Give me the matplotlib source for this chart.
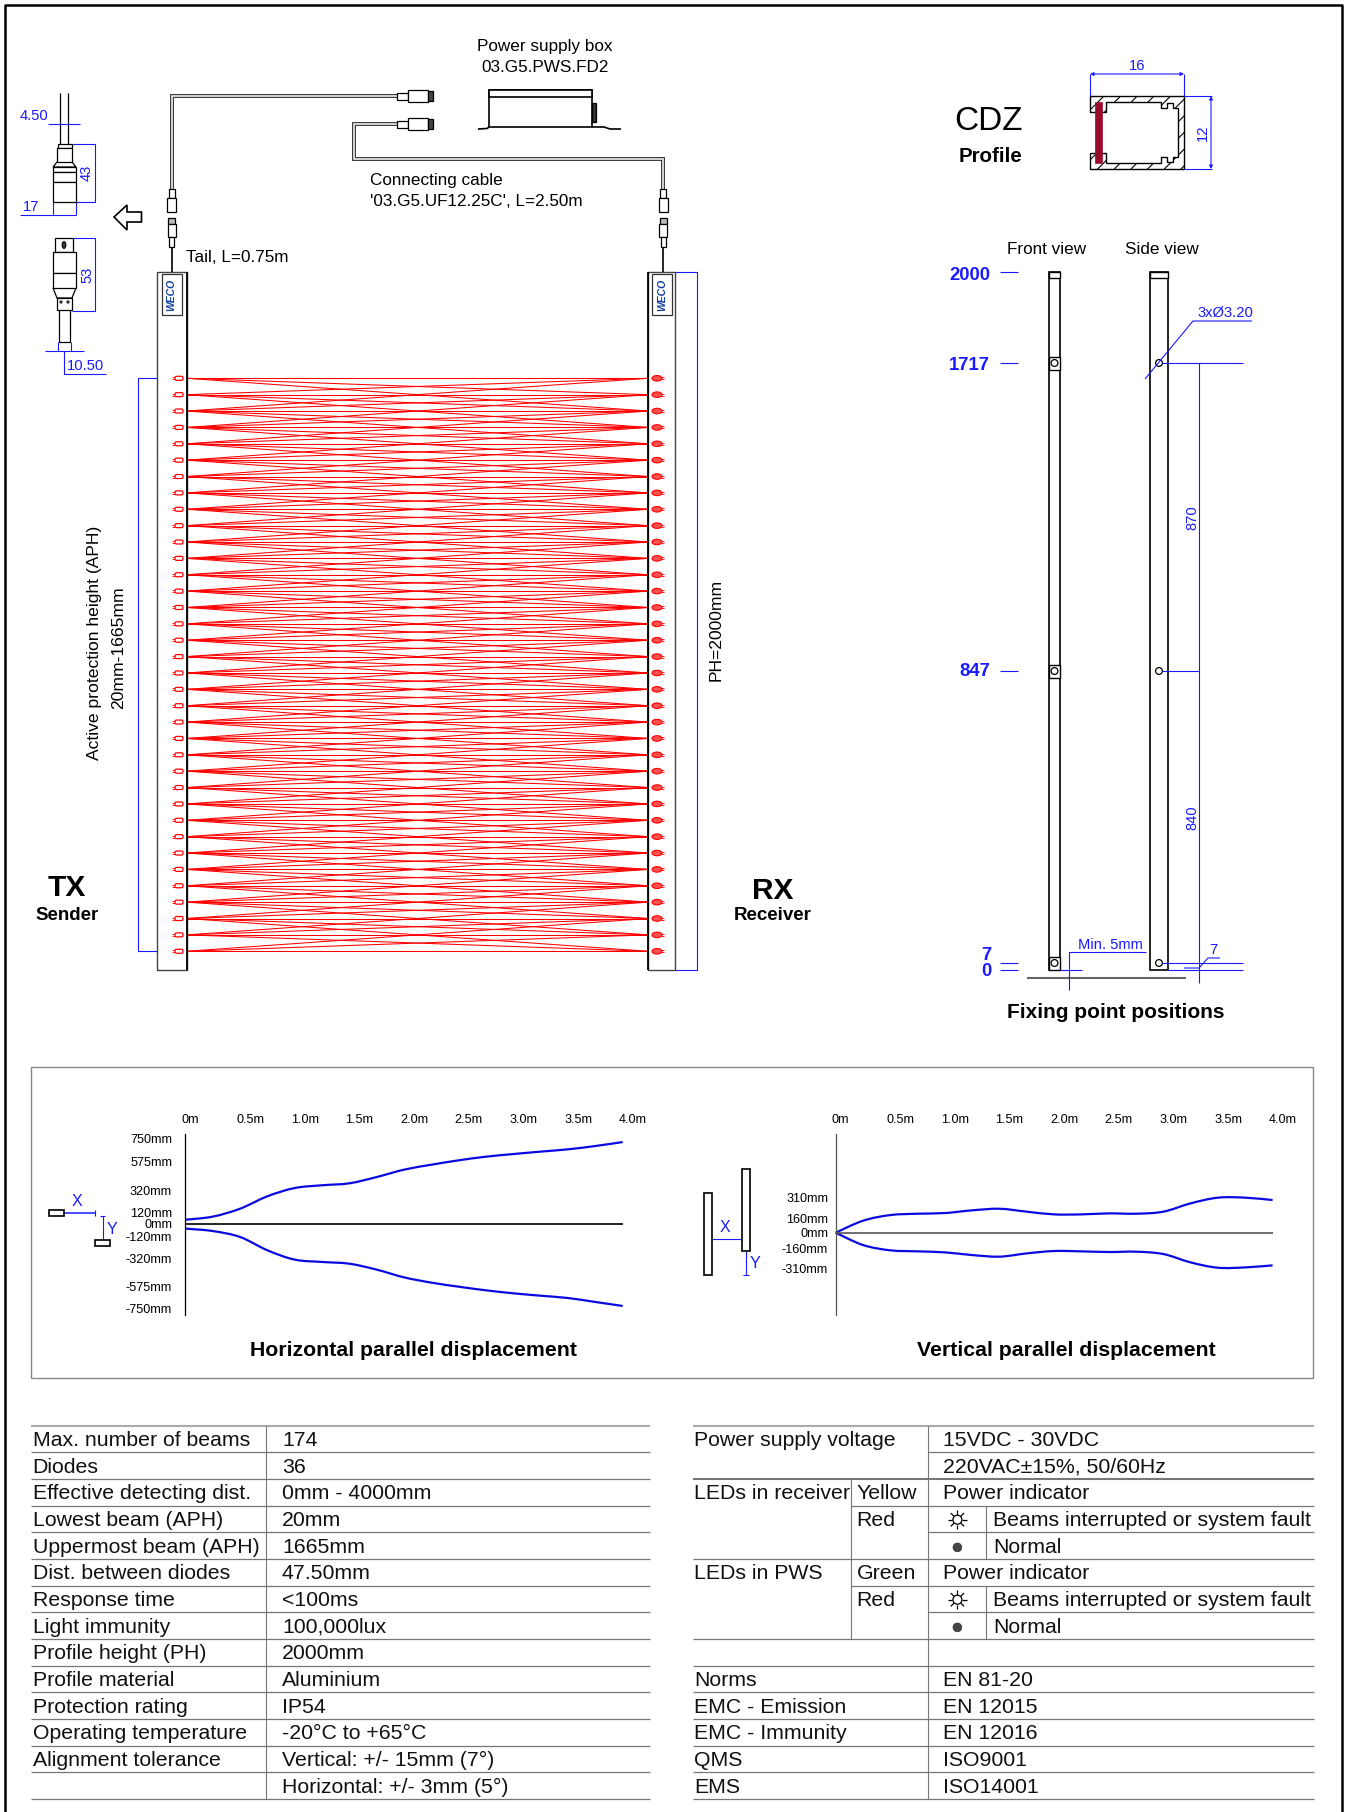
import matplotlib
matplotlib.use('Agg')
import matplotlib.pyplot as plt
from matplotlib.patches import Rectangle, Circle, Polygon, FancyBboxPatch, PathPatch, Ellipse
from matplotlib.path import Path

plt.rcParams['font.family'] = ['Liberation Sans', 'DejaVu Sans']
plt.rcParams['hatch.linewidth'] = 0.8

W, H = 1346, 1812
BLUE = '#1a1aff'
CURVE = '#0a0ae0'
RED = '#ff0000'
GREY = '#777777'

# Displacement charts (distance in m, opening in mm)
dist = [0, 0.25, 0.5, 0.75, 1.0, 1.25, 1.5, 1.75, 2.0, 2.25, 2.5, 2.75, 3.0, 3.25, 3.5, 3.75, 4.0]
h_upper = [39, 67, 139, 252, 327, 352, 370, 427, 494, 539, 579, 612, 636, 658, 679, 709, 745]
h_lower = [-42, -64, -118, -239, -324, -345, -361, -415, -485, -533, -570, -603, -630, -652, -673, -709, -745]
v_upper = [0, 106, 156, 168, 174, 198, 212, 186, 162, 162, 171, 168, 186, 260, 310, 310, 289]
v_lower = [0, -109, -156, -165, -174, -198, -212, -183, -162, -165, -171, -168, -189, -263, -310, -307, -289]
dist_ticks = [0, 0.5, 1.0, 1.5, 2.0, 2.5, 3.0, 3.5, 4.0]
dist_labels = ['0m', '0.5m', '1.0m', '1.5m', '2.0m', '2.5m', '3.0m', '3.5m', '4.0m']
h_tick_pos = [773, 566, 303, 109, 0, -115, -318, -570, -764]
h_tick_labels = ['750mm', '575mm', '320mm', '120mm', '0mm', '-120mm', '-320mm', '-575mm', '-750mm']
v_tick_pos = [313, 130, 0, -138, -315]
v_tick_labels = ['310mm', '160mm', '0mm', '-160mm', '-310mm']

# Spec tables
left_rows = ['Max. number of beams', 'Diodes', 'Effective detecting dist.', 'Lowest beam (APH)',
             'Uppermost beam (APH)', 'Dist. between diodes', 'Response time', 'Light immunity',
             'Profile height (PH)', 'Profile material', 'Protection rating', 'Operating temperature',
             'Alignment tolerance', '']
left_vals = ['174', '36', '0mm - 4000mm', '20mm', '1665mm', '47.50mm', '<100ms', '100,000lux', '2000mm',
             'Aluminium', 'IP54', '-20°C to +65°C', 'Vertical: +/- 15mm (7°)', 'Horizontal: +/- 3mm (5°)']
right_rows = ['Power supply voltage', '', 'LEDs in receiver', '', '', 'LEDs in PWS', '', '', '',
              'Norms', 'EMC - Emission', 'EMC - Immunity', 'QMS', 'EMS']
right_mid = ['', '', 'Yellow', 'Red', '', 'Green', 'Red', '', '', '', '', '', '', '']
right_vals = ['15VDC - 30VDC', '220VAC±15%, 50/60Hz', 'Power indicator', '', '', 'Power indicator', '', '', '',
              'EN 81-20', 'EN 12015', 'EN 12016', 'ISO9001', 'ISO14001']
led_rows = [3, 4, 6, 7]
led_text = ['Beams interrupted or system fault', 'Normal', 'Beams interrupted or system fault', 'Normal']

n_diodes = 36
beam_reach = 2

fig = plt.figure(figsize=(W / 100, H / 100), dpi=100)
ax = fig.add_axes([0, 0, 1, 1])
ax.set_xlim(0, W)
ax.set_ylim(H, 0)
ax.axis('off')


def line(xs, ys, c='black', lw=0.8, **kw):
    ax.plot(xs, ys, color=c, lw=lw, solid_capstyle='butt', **kw)


def box(x0, y0, x1, y1, ec='black', fc='white', lw=0.9, z=3):
    ax.add_patch(Rectangle((x0, y0), x1 - x0, y1 - y0, ec=ec, fc=fc, lw=lw, zorder=z))


def txt(x, y, s, size=12.3, c='black', ha='center', va='center', **kw):
    ax.text(x, y, s, fontsize=size, color=c, ha=ha, va=va, **kw)


def dim(x0, y0, x1, y1):
    ax.annotate('', xy=(x1, y1), xytext=(x0, y0),
                arrowprops=dict(arrowstyle='<|-|>', color=BLUE, lw=0.8, mutation_scale=5, shrinkA=0, shrinkB=0))


def cable(xs, ys):
    ax.plot(xs, ys, color='#333333', lw=2.8, solid_joinstyle='miter', solid_capstyle='butt', zorder=2)
    ax.plot(xs, ys, color='white', lw=1.1, solid_joinstyle='miter', solid_capstyle='butt', zorder=2)


def plug_v(cx):
    box(cx - 3, 189, cx + 3, 198)
    box(cx - 4.5, 198, cx + 4.5, 212)
    box(cx - 3.5, 218, cx + 3.5, 224, fc='#bbbbbb')
    box(cx - 4, 224, cx + 4, 237)
    box(cx - 2.5, 237, cx + 2.5, 247)
    line([cx, cx], [247, 272], lw=1.2)


def plug_h(y):
    box(397, y - 3.5, 408, y + 3.5)
    box(408, y - 6, 428, y + 6)
    box(428, y - 5, 433, y + 5, fc='#444444')


def smooth_path(xs, ys):
    # Catmull-Rom through the read points, drawn as Bezier segments
    verts = [(xs[0], ys[0])]
    codes = [Path.MOVETO]
    n = len(xs)
    for i in range(n - 1):
        i0, i3 = max(i - 1, 0), min(i + 2, n - 1)
        verts.append((xs[i] + (xs[i + 1] - xs[i0]) / 6, ys[i] + (ys[i + 1] - ys[i0]) / 6))
        verts.append((xs[i + 1] - (xs[i3] - xs[i]) / 6, ys[i + 1] - (ys[i3] - ys[i]) / 6))
        verts.append((xs[i + 1], ys[i + 1]))
        codes += [Path.CURVE4] * 3
    return Path(verts, codes)


# outer frame, open at the bottom like the source image
line([4.5, 4.5, 1342, 1342], [H, 5, 5, H], lw=1.8)

# beams between the two bars
ys = [378.3 + 16.37 * i for i in range(n_diodes)]
for i in range(n_diodes):
    for j in range(max(0, i - beam_reach), min(n_diodes, i + beam_reach + 1)):
        line([187, 648], [ys[i], ys[j]], c=RED, lw=0.75)

# TX and RX bars
line([157, 187, 187, 157, 157], [272, 272, 970, 970, 272], c='#444444', lw=1.0)
line([648, 675, 675, 648, 648], [272, 272, 970, 970, 272], c='#444444', lw=1.0)
line([187, 187], [272, 970], lw=1.3)
line([648, 648], [272, 970], lw=1.3)
for x0 in [161.5, 652]:
    box(x0, 274, x0 + 20, 315, ec='#333333')
    txt(x0 + 10, 295, 'WECO', size=7.5, c='#1040a0', rotation=90, weight='bold', style='italic', zorder=4)
for y in ys:
    ax.add_patch(FancyBboxPatch((175, y - 2), 8, 4, boxstyle='round,pad=0,rounding_size=1.5', ec=RED, fc='white', lw=0.9, zorder=3))
    line([172, 175], [y - 1, y - 1], c=RED, lw=0.6)
    line([172, 175], [y + 1, y + 1], c=RED, lw=0.6)
    ax.add_patch(Ellipse((657, y), 10, 5.5, ec=RED, fc='#ff5050', lw=0.8, zorder=3))
    line([661, 663.5], [y - 1, y - 1], c=RED, lw=0.6)
    line([661, 663.5], [y + 1, y + 1], c=RED, lw=0.6)

# cables and plugs
cable([171.5, 171.5, 397], [189, 96, 96])
cable([397, 353.5, 353.5, 663, 663], [124, 124, 159, 159, 189])
plug_v(171.5)
plug_v(663)
plug_h(96)
plug_h(124)

# power supply box
line([489, 489, 592, 592], [127, 90, 90, 127], lw=1.2)
box(489, 90, 592, 97, fc='white', lw=1.2)
line([478, 487, 489], [129, 128.5, 127], lw=1.2)
line([489, 592], [127, 127], lw=1.2)
line([592, 604, 610, 621], [127, 127, 129, 129], lw=1.2)
box(592, 103, 595.5, 122, fc='#333333')

txt(545, 47, 'Power supply box')
txt(545, 67, '03.G5.PWS.FD2')
txt(370, 181, 'Connecting cable', ha='left')
txt(370, 201, "'03.G5.UF12.25C', L=2.50m", ha='left')
txt(186, 258, 'Tail, L=0.75m', ha='left')

# connector details on the far left
line([60, 60], [93, 144], lw=0.9)
line([68, 68], [93, 144], lw=0.9)
box(58, 144, 72, 148)
box(57, 148, 72, 162)
ax.add_patch(Polygon([(57, 162), (72, 162), (76, 167), (53, 167)], closed=True, ec='black', fc='white', lw=0.9))
box(53, 167, 76, 172)
box(53, 172, 76, 182)
box(53, 182, 76, 202)
line([48, 80], [124, 124], c=BLUE)
txt(34, 116, '4.50', size=10.6, c=BLUE)
line([72, 95, 95, 76], [144, 144, 202, 202], c=BLUE)
txt(87, 173, '43', size=10.6, c=BLUE, rotation=90)
line([20, 76], [215, 215], c=BLUE)
line([53, 53], [202, 215], c=BLUE)
line([76, 76], [202, 215], c=BLUE)
txt(31, 207, '17', size=10.6, c=BLUE)
ax.add_patch(Polygon([(114, 217), (127, 205), (127, 212), (141.5, 212), (141.5, 222), (127, 222), (127, 230)],
                     closed=True, ec='black', fc='white', lw=1.2))
box(55, 238, 73, 252)
ax.add_patch(Ellipse((64, 245), 4, 7, ec='black', fc='#333333', lw=0.6, zorder=4))
box(53, 252, 76, 273)
box(53, 273, 76, 288)
ax.add_patch(Polygon([(53, 288), (76, 288), (72, 298), (57, 298)], closed=True, ec='black', fc='white', lw=0.9))
box(57, 298, 72, 310)
ax.add_patch(Circle((61, 302), 1.2, ec='black', fc='#555555', lw=0.5, zorder=4))
ax.add_patch(Circle((68, 302), 1.2, ec='black', fc='#555555', lw=0.5, zorder=4))
line([59, 59, 70, 70], [310, 342, 342, 310], lw=0.9)
line([73, 95, 95, 72], [238, 238, 311, 311], c=BLUE)
txt(87, 275, '53', size=10.6, c=BLUE, rotation=90)
line([45, 84], [351, 351], c=BLUE)
line([58, 58], [342, 351], c=BLUE)
line([71, 71], [342, 351], c=BLUE)
line([64, 64, 106], [351, 374, 374], c=BLUE)
txt(85, 366, '10.50', size=10.6, c=BLUE)

# height dimensions
line([157, 137.7, 137.7, 157], [378, 378, 951, 951], c=BLUE)
line([675, 697, 697, 675], [272, 272, 970, 970], c=BLUE)
txt(94, 643, 'Active protection height (APH)', size=12.6, rotation=90)
txt(118.7, 648, '20mm-1665mm', size=12.6, rotation=90)
txt(716, 630, 'PH=2000mm', size=12.6, rotation=90)
txt(67, 888, 'TX', size=21.5, weight='bold')
txt(67, 915, 'Sender', size=13.5, weight='bold')
txt(773, 891, 'RX', size=21.5, weight='bold')
txt(773, 915, 'Receiver', size=13.5, weight='bold')

# profile section
txt(988, 122, 'CDZ', size=24)
txt(1022, 157, 'Profile', size=14.8, weight='bold', ha='right')
section = [(1090, 96), (1184, 96), (1184, 169), (1090, 169), (1090, 153), (1106, 153), (1106, 163),
           (1161, 163), (1161, 157), (1167, 157), (1167, 162), (1173, 162), (1173, 157), (1178, 157),
           (1178, 108), (1173, 108), (1173, 103), (1167, 103), (1167, 108), (1161, 108), (1161, 102),
           (1106, 102), (1106, 112), (1090, 112)]
ax.add_patch(Polygon(section, closed=True, ec='black', fc='white', hatch='//', lw=1.0))
box(1095, 102, 1102, 163, ec='#9b0a2d', fc='#9b0a2d', lw=0.5, z=4)
line([1090, 1090], [74, 96], c=BLUE)
line([1184, 1184], [74, 96], c=BLUE)
dim(1090, 74, 1184, 74)
txt(1137, 66, '16', size=10.6, c=BLUE)
line([1184, 1212], [96, 96], c=BLUE)
line([1184, 1212], [169, 169], c=BLUE)
dim(1211, 96, 1211, 169)
txt(1203, 133, '12', size=10.6, c=BLUE, rotation=90)

# fixing points, front and side view
txt(1047, 249, 'Front view')
txt(1162, 249, 'Side view')
for label, ytxt, ytick in [('2000', 275, 272), ('1717', 366, 363), ('847', 672, 671)]:
    txt(990, ytxt, label, size=13.3, c=BLUE, weight='bold', ha='right')
    line([1000, 1018], [ytick, ytick], c=BLUE)
txt(986, 955, '7', size=13.3, c=BLUE, weight='bold')
txt(986, 972, '0', size=13.3, c=BLUE, weight='bold')
line([1000, 1018], [963.3, 963.3], c=BLUE)
line([1000, 1018], [970.3, 970.3], c=BLUE)

box(1049, 272, 1060, 970, lw=1.2)
box(1049, 272, 1060, 277.5, lw=1.0)
box(1150, 272, 1168, 970, lw=1.2)
box(1150, 272, 1168, 277.5, lw=1.0)
for yc in [363, 671, 963]:
    box(1049, yc - 6.5, 1060, yc + 7, lw=1.0)
    ax.add_patch(Circle((1054.5, yc), 3.4, ec='black', fc='white', lw=0.9, zorder=4))
    ax.add_patch(Circle((1159, yc), 3.4, ec='black', fc='white', lw=0.9, zorder=4))

line([1145, 1193, 1252], [379, 321, 321], c=BLUE, zorder=5)
txt(1197, 313, '3xØ3.20', size=10.6, c=BLUE, ha='left')
line([1162, 1243], [363, 363], c=BLUE, zorder=5)
line([1162, 1199], [671, 671], c=BLUE, zorder=5)
line([1199, 1199], [363, 983], c=BLUE)
txt(1192, 518, '870', size=10.6, c=BLUE, rotation=90)
txt(1192, 818, '840', size=10.6, c=BLUE, rotation=90)
line([1162, 1243], [963.3, 963.3], c=BLUE, zorder=5)
line([1168, 1243], [970.3, 970.3], c=BLUE, zorder=5)
line([1184, 1199, 1208, 1220], [968, 968, 958, 958], c=BLUE, zorder=5)
txt(1213, 950, '7', size=10.6, c=BLUE)
txt(1110, 945, 'Min. 5mm', size=10.6, c=BLUE)
line([1146, 1069, 1069], [952, 952, 990], c=BLUE, zorder=5)
line([1060, 1082], [970.3, 970.3], c=BLUE, zorder=5)
line([1027, 1186], [978, 978], c='#666666', lw=1.5)
txt(1116, 1013, 'Fixing point positions', size=15, weight='bold')

# displacement panel frame and X/Y sketches
ax.add_patch(Rectangle((31, 1067), 1281.6, 311, ec='#888888', fc='none', lw=1.0))
box(48.6, 1210, 64, 1215.7, lw=1.2)
box(95, 1240, 110, 1245.5, lw=1.2)
line([64, 94.5], [1212.7, 1212.7], c=BLUE, lw=1.1)
line([94.5, 94.5], [1210, 1215.5], c=BLUE)
line([102.5, 102.5], [1215.7, 1240], c=BLUE)
line([100, 105], [1215.7, 1215.7], c=BLUE)
txt(77, 1201, 'X', size=11.5, c=BLUE)
txt(112, 1229, 'Y', size=11.5, c=BLUE)
box(704.4, 1193, 712, 1275, lw=1.2)
box(742, 1168.7, 750, 1250.7, lw=1.2)
line([712, 742], [1239, 1239], c=BLUE)
line([745.7, 745.7], [1251, 1275], c=BLUE)
line([743, 748.5], [1275, 1275], c=BLUE)
txt(725, 1227.7, 'X', size=11.5, c=BLUE)
txt(755, 1263, 'Y', size=11.5, c=BLUE)
txt(413.5, 1350.7, 'Horizontal parallel displacement', size=15.3, weight='bold')
txt(1066, 1350.7, 'Vertical parallel displacement', size=15.3, weight='bold')


def chart(x0, x1, y_zero, mm_scale, upper, lower, pos, labels, pad, base_color):
    top, bottom = 1134, 1315
    c = fig.add_axes([x0 / W, 1 - bottom / H, (x1 - x0) / W, (bottom - top) / H])
    c.patch.set_visible(False)
    c.set_xlim(0, 4)
    c.set_ylim((y_zero - bottom) / mm_scale, (y_zero - top) / mm_scale)
    for side in ['top', 'right', 'bottom']:
        c.spines[side].set_visible(False)
    c.spines['left'].set_linewidth(0.9)
    c.spines['left'].set_color(base_color)
    c.axhline(0, color=base_color, lw=1.2)
    for series in [upper, lower]:
        c.add_patch(PathPatch(smooth_path(dist, series), fc='none', ec=CURVE, lw=1.6, clip_on=False))
    c.set_xticks([])
    c.set_yticks(pos, labels, fontsize=9.1)
    c.tick_params(axis='y', length=0, pad=pad)
    for t, lab in zip(dist_ticks, dist_labels):
        dx = 5 if t == 0 else 10
        c.annotate(lab, (t, 1), xycoords=('data', 'axes fraction'), xytext=(dx, 14),
                   textcoords='offset pixels', ha='center', va='center', fontsize=9.1)


chart(185.4, 622.7, 1224, 0.11, h_upper, h_lower, h_tick_pos, h_tick_labels, 9.6, 'black')
chart(835.7, 1272.6, 1232.7, 0.113, v_upper, v_lower, v_tick_pos, v_tick_labels, 5.5, '#555555')

# spec tables
row_h = 26.67
row_top = 1425.7


def rule(i, x0, x1, c=GREY, lw=0.9):
    line([x0, x1], [row_top + i * row_h] * 2, c=c, lw=lw)


def cell(x, i, s):
    if s:
        txt(x, row_top + i * row_h + 20.3, s, size=15.3, ha='left', va='baseline', c='#111111')


for i in range(15):
    rule(i, 31, 650, c='#aaaaaa' if i == 0 else GREY, lw=1.5 if i == 0 else 0.9)
line([266, 266], [row_top, row_top + 14 * row_h], c=GREY)
for i, (a, b) in enumerate(zip(left_rows, left_vals)):
    cell(32.6, i, a)
    cell(282, i, b)

for i in [0, 2, 5, 8, 9, 10, 11, 12, 13, 14]:
    rule(i, 693, 1314, c='#aaaaaa' if i == 0 else GREY, lw=1.5 if i in (0, 2) else 0.9)
rule(1, 928, 1314)
for i in [3, 6]:
    rule(i, 851, 1314)
for i in [4, 7]:
    rule(i, 928, 1314)
line([928, 928], [row_top, row_top + 14 * row_h], c=GREY)
line([851, 851], [row_top + 2 * row_h, row_top + 8 * row_h], c=GREY)
line([985.5, 985.5], [row_top + 3 * row_h, row_top + 5 * row_h], c=GREY)
line([985.5, 985.5], [row_top + 6 * row_h, row_top + 8 * row_h], c=GREY)
for i in range(14):
    cell(694, i, right_rows[i])
    cell(856.6, i, right_mid[i])
    cell(943, i, right_vals[i])
for i, s in zip(led_rows, led_text):
    cell(992.8, i, s)
    yc = row_top + i * row_h + 14
    if s == 'Normal':
        ax.add_patch(Circle((957.4, yc + 1), 4.4, ec='#333333', fc='#444444', lw=0.5))
    else:
        ax.add_patch(Circle((957.4, yc), 4.5, ec='black', fc='white', lw=0.9))
        for dx, dy in [(1, 0), (-1, 0), (0, 1), (0, -1), (.7, .7), (-.7, .7), (.7, -.7), (-.7, -.7)]:
            line([957.4 + 5 * dx, 957.4 + 9.5 * dx], [yc + 5 * dy, yc + 9.5 * dy], lw=0.9)

fig.savefig('out.png', dpi=100)
